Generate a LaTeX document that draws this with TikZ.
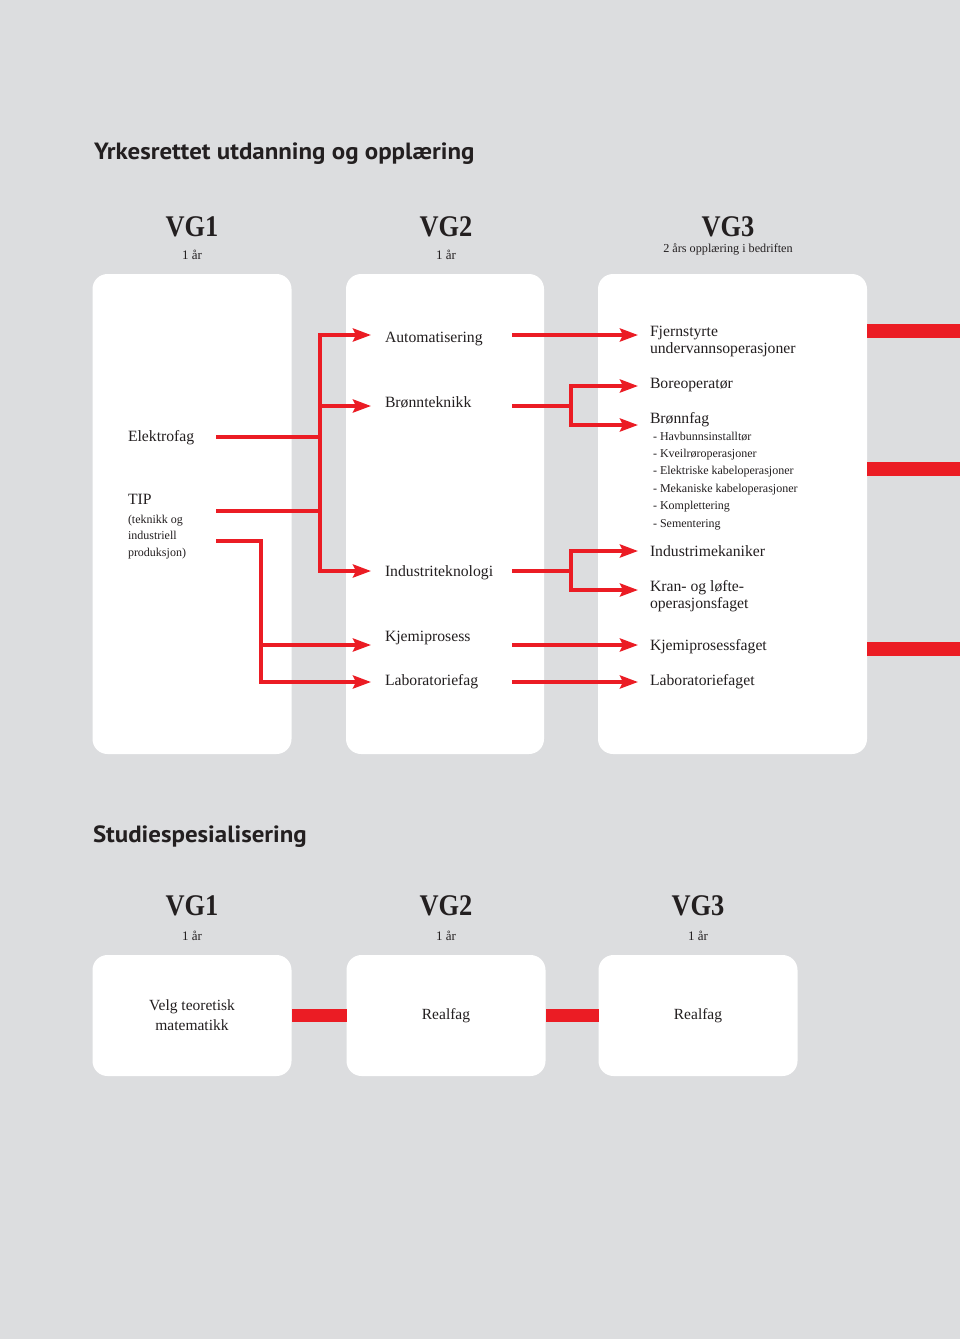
\documentclass[tikz,border=0pt]{standalone}
\usepackage{fontspec}
\setmainfont{Liberation Serif}
\newfontfamily\headfont{PT Sans}[FakeStretch=1.06]
\newfontfamily\vgfont{Liberation Serif}[FakeStretch=0.88]
\usetikzlibrary{arrows.meta,positioning}

\definecolor{bggray}{RGB}{220,221,223}
\definecolor{linered}{RGB}{235,28,36}
\definecolor{barend}{RGB}{238,60,48}
\definecolor{inkgray}{RGB}{35,31,32}

\tikzset{
  pane/.style={fill=white,rounded corners=15pt,inner sep=0pt},
  link/.style={draw=linered,line width=3.6pt},
  arr/.style={link,-{Stealth[length=18pt,width=13pt,inset=3pt]}},
  bar/.style={fill=linered},
  heading/.style={anchor=base west,font=\headfont\bfseries\fontsize{23.5}{26}\selectfont},
  vg/.style={anchor=base,font=\vgfont\bfseries\fontsize{30}{32}\selectfont},
  yr/.style={anchor=base,font=\fontsize{13}{15}\selectfont},
  lbl/.style={anchor=base west,align=left,font=\fontsize{15.7}{17}\selectfont},
  sub/.style={anchor=base west,align=left,font=\fontsize{12}{16.5}\selectfont},
}

\begin{document}
\begin{tikzpicture}[x=1pt,y=-1pt,every node/.style={inner sep=0pt,outer sep=0pt,text=inkgray}]
\fill[bggray] (0,0) rectangle (960,1339);
\useasboundingbox (0,0) rectangle (960,1339);

% yrkesfag
\node[heading] (yrk) at (94,159) {Yrkesrettet utdanning og opplæring};
\node[vg] (vg1) at (192,236) {VG1};
\node[vg] (vg2) at (446,236) {VG2};
\node[vg] (vg3) at (728,236) {VG3};
\node[yr] (vg1yr) at (192,259) {1 år};
\node[yr] (vg2yr) at (446,259) {1 år};
\node[yr,font=\fontsize{12.2}{14}\selectfont] (vg3yr) at (728,252) {2 års opplæring i bedriften};

\node[pane,minimum width=199pt,minimum height=480pt] (pane1) at (192,514) {};
\node[pane,minimum width=198pt,minimum height=480pt] (pane2) at (445,514) {};
\node[pane,minimum width=269pt,minimum height=480pt] (pane3) at (732.5,514) {};

\foreach \y in {324,462,642}
  \fill[bar] (pane3.east |- 0,\y) rectangle (960,\y+14);

% VG1
\node[lbl] (elektro) at (128,441) {Elektrofag};
\node[lbl] (tip) at (128,504) {TIP};
\node[sub] (tipsub) at (128,556) {(teknikk og\\industriell\\produksjon)};

% VG2
\node[lbl] (auto) at (385,342) {Automatisering};
\node[lbl] (bron) at (385,407) {Brønnteknikk};
\node[lbl] (indt) at (385,576) {Industriteknologi};
\node[lbl] (kjem) at (385,641) {Kjemiprosess};
\node[lbl] (lab) at (385,685) {Laboratoriefag};

% VG3
\node[lbl] (fjern) at (650,353) {Fjernstyrte\\undervannsoperasjoner};
\node[lbl] (bore) at (650,388) {Boreoperatør};
\node[lbl] (bfag) at (650,423) {Brønnfag};
\foreach \t [count=\i from 0] in {Havbunnsinstalltør,Kveilrøroperasjoner,Elektriske kabeloperasjoner,Mekaniske kabeloperasjoner,Komplettering,Sementering}
  \node[sub] (bfag\i) at (653,440+17.4*\i) {- \t};
\node[lbl] (mek) at (650,556) {Industrimekaniker};
\node[lbl] (kran) at (650,608) {Kran- og løfte-\\operasjonsfaget};
\node[lbl] (kjemf) at (650,650) {Kjemiprosessfaget};
\node[lbl] (labf) at (650,685) {Laboratoriefaget};

% connector ends
\coordinate (trunk) at (320,0);
\coordinate (trunk2) at (261,0);
\coordinate (split) at (571,0);
\coordinate (eout) at (216,437);
\coordinate (tout) at (216,511);
\coordinate (pout) at (216,541);
\coordinate (auto-in) at (371,335);
\coordinate (bron-in) at (371,406);
\coordinate (indt-in) at (371,571);
\coordinate (kjem-in) at (371,645);
\coordinate (lab-in) at (371,682);
\coordinate (auto-out) at (512,335);
\coordinate (bron-out) at (512,406);
\coordinate (indt-out) at (512,571);
\coordinate (kjem-out) at (512,645);
\coordinate (lab-out) at (512,682);
\coordinate (fjern-in) at (638,335);
\coordinate (bore-in) at (638,386);
\coordinate (bfag-in) at (638,425);
\coordinate (mek-in) at (638,551);
\coordinate (kran-in) at (638,590);
\coordinate (kjemf-in) at (638,645);
\coordinate (labf-in) at (638,682);

% VG1 -> VG2
\draw[link] (eout) -- (eout -| trunk);
\draw[link] (tout) -- (tout -| trunk);
\draw[arr] (indt-in -| trunk) |- (auto-in);
\draw[arr] (auto-in -| trunk) |- (indt-in);
\draw[arr] (bron-in -| trunk) -- (bron-in);
\draw[arr] (pout) -| (lab-in -| trunk2) -- (lab-in);
\draw[arr] (kjem-in -| trunk2) -- (kjem-in);

% VG2 -> VG3
\draw[arr] (auto-out) -- (fjern-in);
\draw[arr] (bron-out) -| (bore-in -| split) -- (bore-in);
\draw[arr] (bron-out -| split) |- (bfag-in);
\draw[arr] (indt-out) -| (mek-in -| split) -- (mek-in);
\draw[arr] (indt-out -| split) |- (kran-in);
\draw[arr] (kjem-out) -- (kjemf-in);
\draw[arr] (lab-out) -- (labf-in);

% studiespesialisering
\node[heading] (stud) at (93,842) {Studiespesialisering};
\node[vg] (svg1) at (192,915) {VG1};
\node[vg] (svg2) at (446,915) {VG2};
\node[vg] (svg3) at (698,915) {VG3};
\node[yr] (svg1yr) at (192,940) {1 år};
\node[yr] (svg2yr) at (446,940) {1 år};
\node[yr] (svg3yr) at (698,940) {1 år};

\node[pane,minimum width=199pt,minimum height=121pt,align=center,font=\fontsize{15.5}{20}\selectfont] (s1) at (192,1015.5) {Velg teoretisk\\matematikk};
\node[pane,minimum width=199pt,minimum height=121pt,font=\fontsize{15.5}{20}\selectfont] (s2) at (446,1015.5) {Realfag};
\node[pane,minimum width=199pt,minimum height=121pt,font=\fontsize{15.5}{20}\selectfont] (s3) at (698,1015.5) {Realfag};

\fill[bar] ([yshift=-6.5pt]s1.east) rectangle ([yshift=6.5pt]s2.west);
\fill[bar] ([yshift=-6.5pt]s2.east) rectangle ([yshift=6.5pt]s3.west);
\shade[left color=linered,right color=barend] ([yshift=-6.5pt]s3.east) rectangle (960,1022);
\end{tikzpicture}
\end{document}
